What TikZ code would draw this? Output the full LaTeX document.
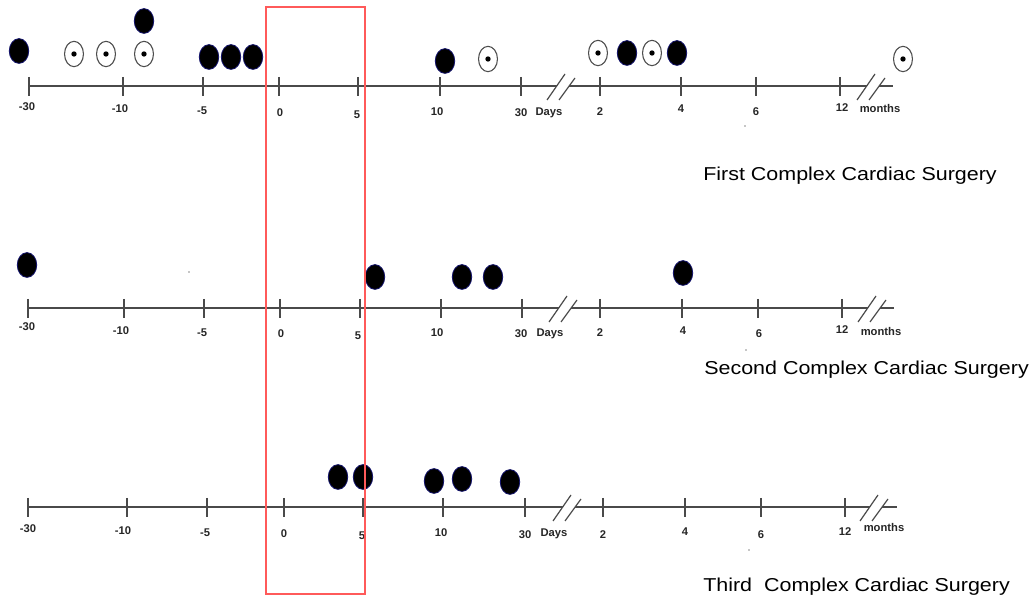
\documentclass[tikz,border=0pt]{standalone}
\usepackage{fontspec}
\setmainfont{Liberation Sans}
\usetikzlibrary{shapes.geometric}
\definecolor{axisgray}{HTML}{4A4A4A}
\definecolor{evedge}{HTML}{10106A}
\definecolor{boxred}{HTML}{FF5A5A}
\newcommand\tlineaxis[4]{% y, days break x, months break x, end x
  \coordinate (s#1) at (28,#1);
  \coordinate (e#1) at (#4,#1);
  \draw[axisline] (s#1) -- ({#2+9.7},#1);
  \draw[axisline] ({#2+22},#1) -- ({#3+9.7},#1);
  \draw[axisline] ({#3+22},#1) -- (e#1);
  \draw[brk] (#2,{#1+14}) -- ({#2+18},{#1-12});
  \draw[brk] ({#2+12},{#1+14}) -- ({#2+28},{#1-8});
  \draw[brk] (#3,{#1+14}) -- ({#3+18},{#1-12});
  \draw[brk] ({#3+12},{#1+14}) -- ({#3+28},{#1-8});
}
\begin{document}
\begin{tikzpicture}[x=0.75pt,y=-0.75pt,
  axisline/.style={draw=axisgray,line width=1.5pt},
  tickmark/.style={draw=axisgray,line width=1.1pt},
  brk/.style={draw=axisgray,line width=0.9pt},
  lbl/.style={font=\fontsize{8.4pt}{9pt}\selectfont\bfseries,inner sep=0pt,text=black!85},
  ev/.style={ellipse,fill=black,draw=evedge,line width=0.6pt,minimum width=14.6pt,minimum height=18.6pt,inner sep=0pt},
  cen/.style={ellipse,draw=black!70,line width=0.8pt,minimum width=14.2pt,minimum height=19pt,inner sep=0pt,
    path picture={\fill[black] (path picture bounding box.center) circle (2pt);}},
  title/.style={font=\fontsize{14pt}{16pt}\selectfont,anchor=west,inner sep=0pt},
  stray/.style={fill=black!45},
  redbox/.style={draw=boxred,line width=1.1pt}]
\useasboundingbox[fill=white] (0,0) rectangle (1033,602);

% ---------- timeline 1 ----------
\tlineaxis{86}{547}{857}{893}
\foreach \x in {29,123,203,279,358,440,521,600,681,756,840}
  \draw[tickmark] (\x,77) -- (\x,96);
\foreach \x/\yy/\t [count=\i] in {27/107/-30,120/109/-10,202/111/-5,280/113/0,357/115/5,437/112/10,521/113/30,549/113/Days,600/112/2,681/109/4,756/112/6,842/108/12,880/108/months}
  \node[lbl] (la\i) at (\x,\yy) {\t};
\node[ev]  (a1)  at (19,51) {};
\node[cen] (a2)  at (74,54) {};
\node[cen] (a3)  at (106,54) {};
\node[cen] (a4)  at (144,54) {};
\node[ev]  (a5)  at (144,21) {};
\node[ev]  (a6)  at (209,57) {};
\node[ev]  (a7)  at (231,57) {};
\node[ev]  (a8)  at (253,57) {};
\node[ev]  (a9)  at (445,61) {};
\node[cen] (a10) at (488,59) {};
\node[cen] (a11) at (598,53) {};
\node[ev]  (a12) at (627,53) {};
\node[cen] (a13) at (652,53) {};
\node[ev]  (a14) at (677,53) {};
\node[cen] (a15) at (903,59) {};
\fill[stray] (745,126) circle (0.6pt);
\node[title] (t1) at (703,176) {\scalebox{1.15}[1]{First Complex Cardiac Surgery}};

% ---------- timeline 2 ----------
\tlineaxis{308}{549}{858}{894}
\foreach \x in {28,124,204,280,360,441,522,600,682,758,842}
  \draw[tickmark] (\x,299) -- (\x,318);
\foreach \x/\yy/\t [count=\i] in {27/327/-30,121/331/-10,202/333/-5,281/334/0,358/336/5,437/333/10,521/334/30,550/334/Days,600/333/2,683/331/4,759/334/6,842/330/12,881/331/months}
  \node[lbl] (lb\i) at (\x,\yy) {\t};
\node[ev] (b1) at (27,265) {};
\node[ev] (b2) at (375,277) {};
\node[ev] (b3) at (462,277) {};
\node[ev] (b4) at (493,277) {};
\node[ev] (b5) at (683,273) {};
\fill[stray] (189,272) circle (0.6pt);
\fill[stray] (746,350) circle (0.6pt);
\node[title] (t2) at (704,370) {\scalebox{1.15}[1]{Second Complex Cardiac Surgery}};

% ---------- timeline 3 ----------
\tlineaxis{507}{553}{860}{897}
\foreach \x in {28,127,207,284,363,443,525,603,685,761,845}
  \draw[tickmark] (\x,498) -- (\x,517);
\foreach \x/\yy/\t [count=\i] in {28/529/-30,123/531/-10,205/533/-5,284/534/0,362/536/5,441/533/10,525/535/30,554/534/Days,603/535/2,685/532/4,761/535/6,845/532/12,884/527/months}
  \node[lbl] (lc\i) at (\x,\yy) {\t};
\node[ev] (c1) at (338,477) {};
\node[ev] (c2) at (363,477) {};
\node[ev] (c3) at (434,481) {};
\node[ev] (c4) at (462,479) {};
\node[ev] (c5) at (510,482) {};
\fill[stray] (749,550) circle (0.6pt);
\node[title] (t3) at (703,587) {\scalebox{1.15}[1]{Third\ \ Complex Cardiac Surgery}};

% ---------- highlighted window ----------
\draw[redbox] (266,7) rectangle (365,594);
\end{tikzpicture}
\end{document}
